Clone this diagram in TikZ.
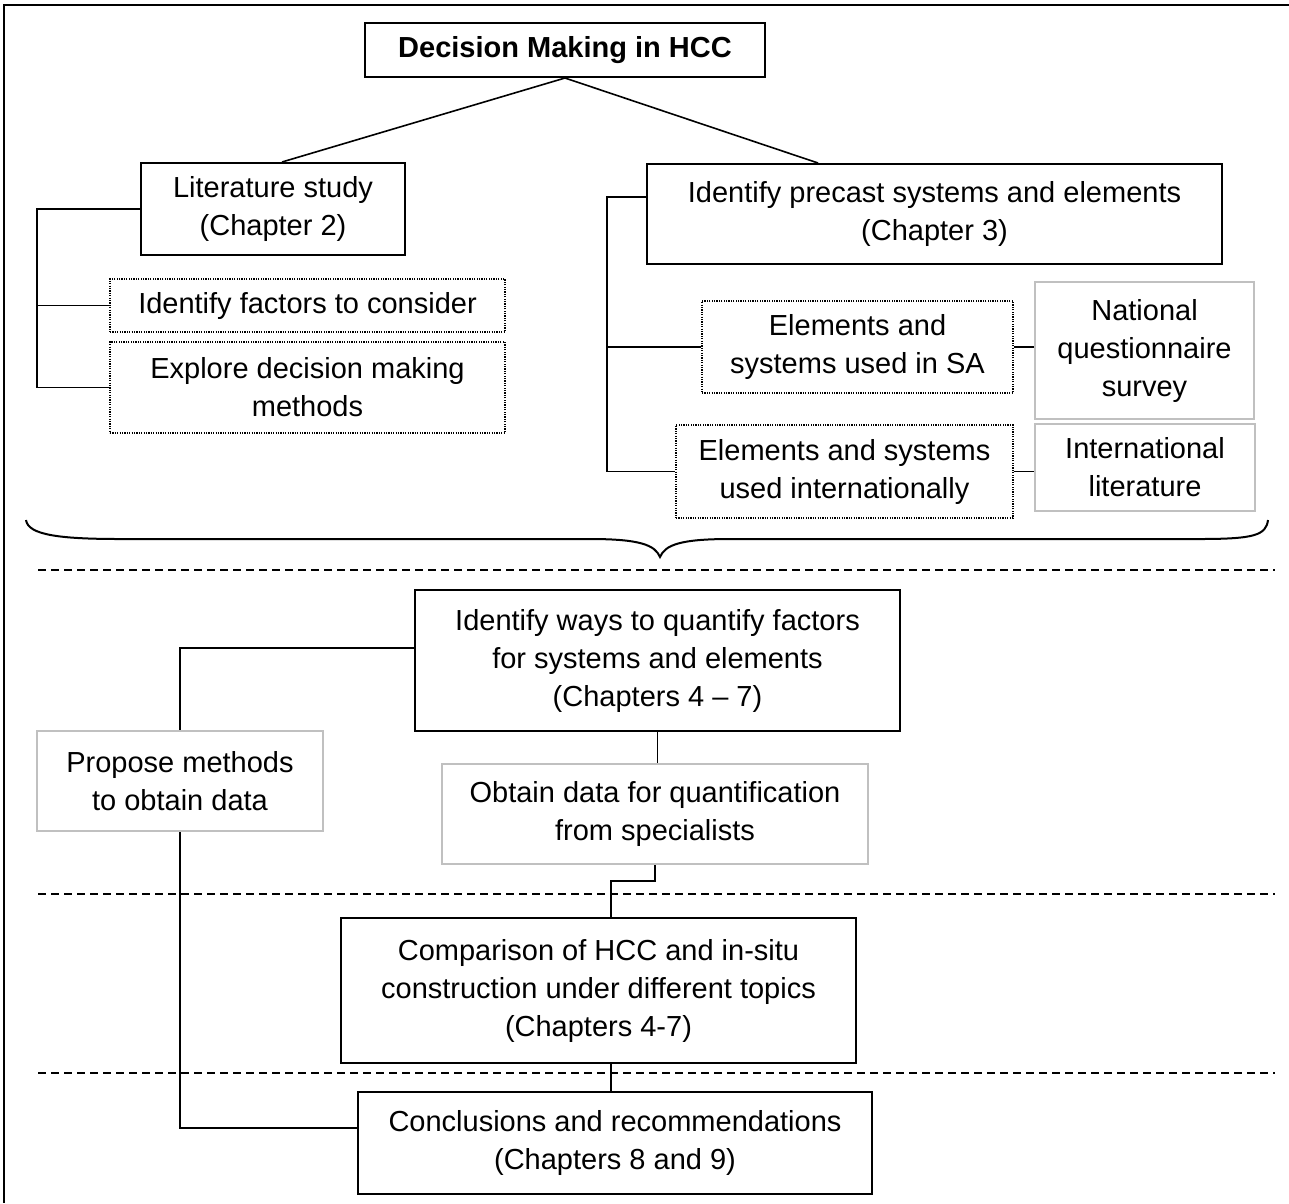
\documentclass[tikz,border=0pt]{standalone}
\usepackage{fontspec}
\setmainfont{Liberation Sans}
\usetikzlibrary{calc}
\definecolor{boxgray}{RGB}{192,192,192}
\begin{document}
\begin{tikzpicture}[x=1pt,y=-1pt,
  every node/.style={font=\fontsize{29}{38}\selectfont, inner sep=0pt, align=center},
  mainbox/.style={draw=black, line width=2pt, fill=white},
  dotbox/.style={draw=black, line width=1.2pt, dash pattern=on 1.2pt off 1.2pt, fill=white},
  graybox/.style={draw=boxgray, line width=2pt, fill=white},
  conn/.style={draw=black, line width=1.6pt},
  sepline/.style={draw=black, line width=2pt, dash pattern=on 8pt off 5pt},
  framel/.style={draw=black, line width=2.2pt},
  bracel/.style={draw=black, line width=2pt}]
\useasboundingbox (0,0) rectangle (1289,1203);

% frame
\draw[framel] (1289,5) -- (4,5) -- (4,1203);

% separators
\draw[sepline] (38,570) -- (1275,570);
\draw[sepline] (38,894) -- (1275,894);
\draw[sepline] (38,1073) -- (1275,1073);

% brace
\draw[bracel] (26,520) .. controls (28,535) and (60,539) .. (120,539) -- (590,539)
  .. controls (640,539) and (655,545) .. (660,557)
  .. controls (665,545) and (680,539) .. (730,539) -- (1200,539)
  .. controls (1255,539) and (1266,535) .. (1268,520);

% nodes
\node[mainbox, minimum width=400pt, minimum height=54pt] (title) at (565,50) {\bfseries Decision Making in HCC};
\node[mainbox, minimum width=264pt, minimum height=92pt] (lit) at (273,209) {Literature study\\(Chapter 2)};
\node[dotbox, minimum width=395pt, minimum height=53pt] (fac) at (307.5,305.5) {Identify factors to consider};
\node[dotbox, minimum width=395pt, minimum height=91pt] (exp) at (307.5,387.5) {Explore decision making\\methods};
\node[mainbox, minimum width=575pt, minimum height=100pt] (pre) at (934.5,214) {Identify precast systems and elements\\(Chapter 3)};
\node[dotbox, minimum width=311pt, minimum height=92pt] (sa) at (857.5,347) {Elements and\\systems used in SA};
\node[graybox, minimum width=219pt, minimum height=137pt] (nat) at (1144.5,350.5) {National\\questionnaire\\survey};
\node[dotbox, minimum width=337pt, minimum height=93pt] (intl) at (844.5,471.5) {Elements and systems\\used internationally};
\node[graybox, minimum width=220pt, minimum height=87pt] (ilit) at (1145,467.5) {International\\literature};
\node[mainbox, minimum width=485pt, minimum height=141pt] (ways) at (657.5,660.5) {Identify ways to quantify factors\\for systems and elements\\(Chapters 4 -- 7)};
\node[graybox, minimum width=286pt, minimum height=100pt] (prop) at (180,781) {Propose methods\\to obtain data};
\node[graybox, minimum width=426pt, minimum height=100pt] (obt) at (655,814) {Obtain data for quantification\\from specialists};
\node[mainbox, minimum width=515pt, minimum height=145pt] (comp) at (598.5,990.5) {Comparison of HCC and in-situ\\construction under different topics\\(Chapters 4-7)};
\node[mainbox, minimum width=514pt, minimum height=102pt] (conc) at (615,1143) {Conclusions and recommendations\\(Chapters 8 and 9)};

% connectors
\draw[conn] (title.south) -- ($(lit.north)+(9,0)$);
\draw[conn] (title.south) -- ($(pre.north)+(-116.5,0)$);
\draw[conn] (lit.west) -- ++(-103,0) |- (fac.west);
\draw[conn] (lit.west) -- ++(-103,0) |- (exp.west);
\coordinate (preL) at ($(pre.west)+(0,-17)$);
\draw[conn] (preL) -- ++(-39,0) |- (sa.west);
\draw[conn] (preL) -- ++(-39,0) |- (intl.west);
\draw[conn] (sa.east) -- (sa.east -| nat.west);
\draw[conn] (intl.east) -- (intl.east -| ilit.west);
\draw[conn] (ways.south) -- (ways.south |- obt.north);
\coordinate (compT) at ($(comp.north)+(12.5,0)$);
\draw[conn] (obt.south) -- ++(0,16) -| (compT);
\coordinate (compB) at ($(comp.south)+(12.5,0)$);
\draw[conn] (compB) -- (compB |- conc.north);
\coordinate (waysL) at ($(ways.west)+(0,-12.5)$);
\draw[conn] (waysL) -| (prop.north);
\coordinate (concL) at ($(conc.west)+(0,-15)$);
\draw[conn] (prop.south) |- (concL);
\end{tikzpicture}
\end{document}
